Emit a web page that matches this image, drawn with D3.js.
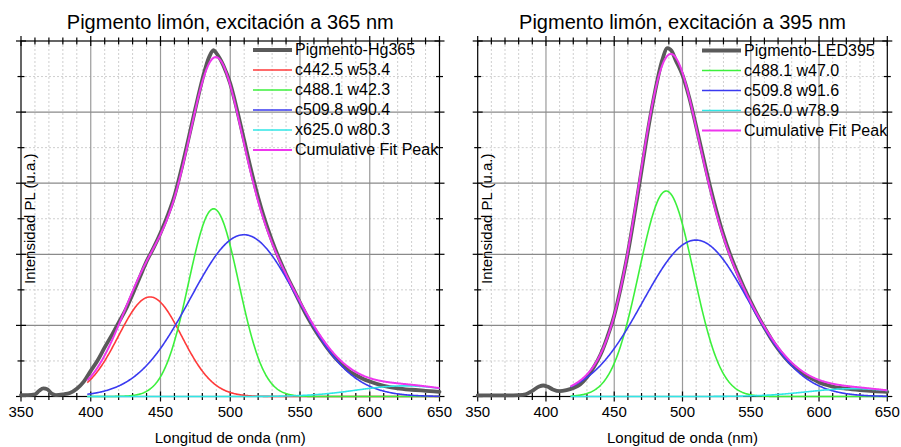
<!DOCTYPE html>
<html>
<head>
<meta charset="utf-8">
<script src="https://cdn.jsdelivr.net/npm/d3@7"></script>
<style>
  body { margin: 0; background: #fff; }
  svg { display: block; font-family: "Liberation Sans", Arial, sans-serif; }
</style>
</head>
<body>
<svg id="chart" width="901" height="447"></svg>
<script>
// ---- axis ticks ----
const xTickValues = [350, 400, 450, 500, 550, 600, 650];
const yMajorTicks = [0, 1, 2, 3, 4, 5];

// ---- measured PL spectrum, excitation 365 nm (Hg lamp) ----
const wl365 = [350, 355, 360, 363, 366, 369, 372, 375, 380, 385, 390, 395, 400, 405, 410, 415, 420, 425, 430, 435,
               440, 445, 450, 455, 460, 465, 470, 475, 480, 485, 488, 490, 495, 500, 505, 510, 515, 520, 525, 530,
               535, 540, 545, 550, 555, 560, 565, 570, 575, 580, 585, 590, 595, 600, 610, 620, 630, 640, 650];
const pl365 = [0.02, 0.02, 0.03, 0.08, 0.115, 0.10, 0.04, 0.02, 0.03, 0.05, 0.11, 0.21, 0.36, 0.51, 0.69, 0.86, 1.04, 1.22, 1.44, 1.67,
               1.90, 2.09, 2.30, 2.54, 2.82, 3.20, 3.62, 4.05, 4.46, 4.78, 4.87, 4.83, 4.66, 4.40, 4.02, 3.60, 3.18, 2.80, 2.47, 2.19,
               1.94, 1.72, 1.52, 1.32, 1.13, 0.96, 0.81, 0.67, 0.55, 0.45, 0.36, 0.30, 0.25, 0.21, 0.15, 0.115, 0.095, 0.08, 0.065];

// ---- Gaussian peaks fitted to the 365 nm spectrum (centre, FWHM, height) ----
const peakLabels365 = ["c442.5 w53.4", "c488.1 w42.3", "c509.8 w90.4", "x625.0 w80.3"];
const peakCenters365 = [442.5, 488.1, 509.8, 625.0];
const peakWidths365 = [53.4, 42.3, 90.4, 80.3];
const peakHeights365 = [1.40, 2.64, 2.275, 0.15];
const fitRange365 = [397.5, 650];

// ---- measured PL spectrum, excitation 395 nm (LED) ----
const wl395 = [350, 360, 370, 380, 385, 390, 395, 398, 401, 405, 410, 415, 420, 425, 430, 435, 440, 445, 450, 455,
               460, 465, 470, 475, 480, 485, 489, 492, 495, 500, 505, 510, 515, 520, 525, 530, 535, 540, 545, 550,
               555, 560, 565, 570, 575, 580, 585, 590, 595, 600, 610, 620, 630, 640, 650];
const pl395 = [0.015, 0.015, 0.015, 0.02, 0.03, 0.08, 0.14, 0.155, 0.14, 0.10, 0.075, 0.09, 0.12, 0.17, 0.27, 0.41, 0.59, 0.84, 1.14, 1.55,
               2.02, 2.58, 3.18, 3.78, 4.30, 4.72, 4.90, 4.86, 4.73, 4.52, 4.20, 3.80, 3.38, 2.97, 2.60, 2.27, 1.99, 1.75, 1.53, 1.33,
               1.14, 0.97, 0.81, 0.67, 0.55, 0.45, 0.37, 0.30, 0.25, 0.20, 0.14, 0.11, 0.09, 0.075, 0.065];

// ---- Gaussian peaks fitted to the 395 nm spectrum ----
const peakLabels395 = ["c488.1 w47.0", "c509.8 w91.6", "c625.0 w78.9"];
const peakCenters395 = [488.1, 509.8, 625.0];
const peakWidths395 = [47.0, 91.6, 78.9];
const peakHeights395 = [2.89, 2.20, 0.11];
const fitRange395 = [418, 650];

// ---- layout and styling ----
const COL = { data: "#5a5a5a", red: "#ff3a3a", green: "#3cf03c", blue: "#3a3af0", cyan: "#30e6e6", magenta: "#ee36ee" };

const panels = [
  {
    title: "Pigmento limón, excitación a 365 nm",
    left: 21, right: 439.5, top: 41, bottom: 396.5,
    wl: wl365, pl: pl365, dataLabel: "Pigmento-Hg365",
    labels: peakLabels365, centers: peakCenters365, widths: peakWidths365, heights: peakHeights365,
    colors: [COL.red, COL.green, COL.blue, COL.cyan], fit: fitRange365,
    legendX: 253, legendY: 50
  },
  {
    title: "Pigmento limón, excitación a 395 nm",
    left: 477.7, right: 887.3, top: 41, bottom: 396.5,
    wl: wl395, pl: pl395, dataLabel: "Pigmento-LED395",
    labels: peakLabels395, centers: peakCenters395, widths: peakWidths395, heights: peakHeights395,
    colors: [COL.green, COL.blue, COL.cyan], fit: fitRange395,
    legendX: 702, legendY: 50.5
  }
];

const svg = d3.select("#chart");
const FWHM_TO_SIGMA = 1 / (2 * Math.sqrt(2 * Math.log(2)));

function gauss(x, c, w, h) {
  const s = w * FWHM_TO_SIGMA;
  return h * Math.exp(-0.5 * ((x - c) / s) ** 2);
}

panels.forEach(p => {
  const g = svg.append("g");
  const x = d3.scaleLinear().domain([350, 650]).range([p.left, p.right]);
  const y = d3.scaleLinear().domain([0, 5]).range([p.bottom, p.top]);

  const xMinor = d3.range(350, 651, 10).filter(v => v % 50 !== 0);
  const yMinor = d3.range(0.5, 5, 1);

  // grid
  const grid = g.append("g");
  grid.selectAll(".vminor").data(xMinor).join("line")
    .attr("x1", d => x(d)).attr("x2", d => x(d)).attr("y1", p.top).attr("y2", p.bottom)
    .attr("stroke", "#cfcfcf").attr("stroke-width", 1).attr("stroke-dasharray", "2,2");
  grid.selectAll(".hminor").data(yMinor).join("line")
    .attr("x1", p.left).attr("x2", p.right).attr("y1", d => y(d)).attr("y2", d => y(d))
    .attr("stroke", "#cfcfcf").attr("stroke-width", 1).attr("stroke-dasharray", "2,2");
  grid.selectAll(".vmajor").data(xTickValues.slice(1, -1)).join("line")
    .attr("x1", d => x(d)).attr("x2", d => x(d)).attr("y1", p.top).attr("y2", p.bottom)
    .attr("stroke", "#9a9a9a").attr("stroke-width", 1.2);
  grid.selectAll(".hmajor").data(yMajorTicks.slice(1, -1)).join("line")
    .attr("x1", p.left).attr("x2", p.right).attr("y1", d => y(d)).attr("y2", d => y(d))
    .attr("stroke", "#8a8a8a").attr("stroke-width", 1.2);

  // frame
  g.append("rect").attr("x", p.left).attr("y", p.top)
    .attr("width", p.right - p.left).attr("height", p.bottom - p.top)
    .attr("fill", "none").attr("stroke", "#000").attr("stroke-width", 1.2);

  // ticks crossing every side of the frame
  const ticks = g.append("g").attr("stroke", "#000").attr("stroke-width", 1.2);
  [p.top, p.bottom].forEach(yy => {
    ticks.selectAll(null).data(xTickValues).join("line")
      .attr("x1", d => x(d)).attr("x2", d => x(d)).attr("y1", yy - 5).attr("y2", yy + 5);
    ticks.selectAll(null).data(xMinor).join("line")
      .attr("x1", d => x(d)).attr("x2", d => x(d)).attr("y1", yy - 3.5).attr("y2", yy + 3.5);
  });
  [p.left, p.right].forEach(xx => {
    ticks.selectAll(null).data(yMajorTicks).join("line")
      .attr("y1", d => y(d)).attr("y2", d => y(d)).attr("x1", xx - 5).attr("x2", xx + 5);
    ticks.selectAll(null).data(yMinor).join("line")
      .attr("y1", d => y(d)).attr("y2", d => y(d)).attr("x1", xx - 3.5).attr("x2", xx + 3.5);
  });

  // tick labels
  g.selectAll(".xl").data(xTickValues).join("text")
    .attr("x", d => x(d)).attr("y", 417).attr("text-anchor", "middle")
    .attr("font-size", 15).attr("fill", "#000").text(d => d);

  // axis titles
  g.append("text").attr("x", (p.left + p.right) / 2).attr("y", 443)
    .attr("text-anchor", "middle").attr("font-size", 15).text("Longitud de onda (nm)");
  g.append("text")
    .attr("transform", `translate(${p.left + 14},${(p.top + p.bottom) / 2}) rotate(-90)`)
    .attr("text-anchor", "middle").attr("font-size", 15).text("Intensidad PL (u.a.)");

  // title
  g.append("text").attr("x", (p.left + p.right) / 2).attr("y", 29)
    .attr("text-anchor", "middle").attr("font-size", 20).text(p.title);

  // measured spectrum
  const dataLine = d3.line().x((d, i) => x(p.wl[i])).y(d => y(d)).curve(d3.curveMonotoneX);
  g.append("path").attr("d", dataLine(p.pl))
    .attr("fill", "none").attr("stroke", COL.data).attr("stroke-width", 3.8)
    .attr("stroke-linejoin", "round").attr("stroke-linecap", "round");

  // fitted Gaussian components and their sum
  const xs = d3.range(p.fit[0], p.fit[1] + 0.01, 0.5);
  const line = d3.line().x(d => x(d[0])).y(d => y(d[1]));
  p.centers.forEach((c, k) => {
    const pts = xs.map(v => [v, gauss(v, c, p.widths[k], p.heights[k])]);
    g.append("path").attr("d", line(pts)).attr("fill", "none")
      .attr("stroke", p.colors[k]).attr("stroke-width", 1.6);
  });
  const cum = xs.map(v => [v, d3.sum(p.centers, (c, k) => gauss(v, c, p.widths[k], p.heights[k]))]);
  g.append("path").attr("d", line(cum)).attr("fill", "none")
    .attr("stroke", COL.magenta).attr("stroke-width", 2);

  // legend
  const items = [{ label: p.dataLabel, color: COL.data, w: 3.8 }]
    .concat(p.labels.map((l, k) => ({ label: l, color: p.colors[k], w: 1.6 })))
    .concat([{ label: "Cumulative Fit Peak", color: COL.magenta, w: 2 }]);
  const lg = g.append("g");
  items.forEach((it, i) => {
    const yy = p.legendY + i * 20;
    lg.append("line").attr("x1", p.legendX).attr("x2", p.legendX + 39)
      .attr("y1", yy).attr("y2", yy).attr("stroke", it.color).attr("stroke-width", it.w);
    lg.append("text").attr("x", p.legendX + 42).attr("y", yy + 5)
      .attr("font-size", 16).attr("fill", "#000").text(it.label);
  });
});
</script>
</body>
</html>
